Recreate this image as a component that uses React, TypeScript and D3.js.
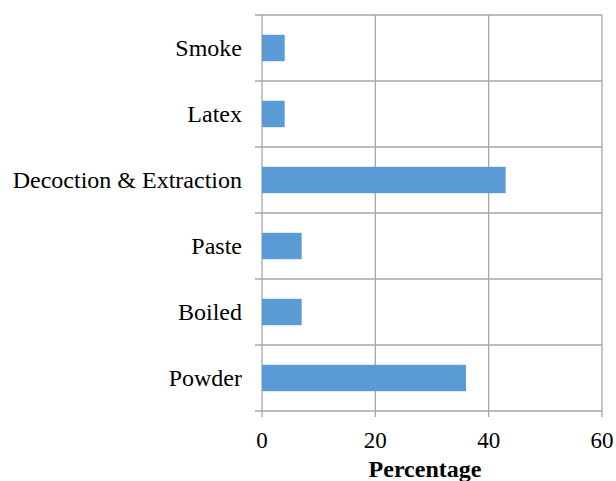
import React, { useEffect, useRef } from 'react';
import * as d3 from 'd3';

const categories = ['Smoke', 'Latex', 'Decoction & Extraction', 'Paste', 'Boiled', 'Powder'];
const percentages = [4, 4, 43, 7, 7, 36];
const xTicks = [0, 20, 40, 60];
const xTitle = 'Percentage';

const W = 616;
const H = 481;

export default function App() {
    const svgRef = useRef<SVGSVGElement>(null);

    useEffect(() => {
        if (!svgRef.current) return;
        const svg = d3.select(svgRef.current);
        svg.selectAll('*').remove();

        const margin = { top: 15, right: 14, bottom: 70, left: 262 };
        const innerW = W - margin.left - margin.right;
        const innerH = H - margin.top - margin.bottom;
        const font = '"Liberation Serif", "Times New Roman", serif';
        const grid = '#a6a6a6';

        const x = d3.scaleLinear().domain([0, 60]).range([0, innerW]);
        const y = d3.scaleBand<string>().domain(categories).range([0, innerH]).paddingInner(0.6).paddingOuter(0.3);
        const bands = d3.scaleBand<string>().domain(categories).range([0, innerH]);

        const g = svg.append('g').attr('transform', `translate(${margin.left},${margin.top})`);

        // vertical gridlines + ticks below
        g.selectAll('.vgrid')
            .data(xTicks)
            .enter()
            .append('line')
            .attr('x1', d => x(d))
            .attr('x2', d => x(d))
            .attr('y1', 0)
            .attr('y2', innerH + 6)
            .attr('stroke', grid)
            .attr('stroke-width', 1.3);

        // horizontal category boundaries, ticks out to the left
        const bounds = categories.map(c => bands(c) as number).concat([innerH]);
        g.selectAll('.hgrid')
            .data(bounds)
            .enter()
            .append('line')
            .attr('x1', -7)
            .attr('x2', innerW)
            .attr('y1', d => d)
            .attr('y2', d => d)
            .attr('stroke', grid)
            .attr('stroke-width', 1.3);

        g.selectAll('.bar')
            .data(categories)
            .enter()
            .append('rect')
            .attr('x', x(0))
            .attr('y', d => y(d) as number)
            .attr('width', (d, i) => x(percentages[i]) - x(0))
            .attr('height', y.bandwidth())
            .attr('fill', '#5b9bd5');

        g.selectAll('.cat')
            .data(categories)
            .enter()
            .append('text')
            .attr('x', -20)
            .attr('y', d => (bands(d) as number) + bands.bandwidth() / 2)
            .attr('dy', '0.35em')
            .attr('text-anchor', 'end')
            .attr('font-family', font)
            .attr('font-size', 24)
            .attr('fill', '#000')
            .text(d => d);

        g.selectAll('.xt')
            .data(xTicks)
            .enter()
            .append('text')
            .attr('x', d => x(d))
            .attr('y', innerH + 37)
            .attr('text-anchor', 'middle')
            .attr('font-family', font)
            .attr('font-size', 23)
            .attr('fill', '#000')
            .text(d => String(d));

        g.append('text')
            .attr('x', x(30) - 7)
            .attr('y', innerH + 66)
            .attr('text-anchor', 'middle')
            .attr('font-family', font)
            .attr('font-size', 24)
            .attr('font-weight', 'bold')
            .attr('fill', '#000')
            .text(xTitle);
    }, []);

    return (
        <svg
            ref={svgRef}
            width={W}
            height={H}
            style={{ position: 'absolute', left: 0, top: 0, background: '#fff' }}
        />
    );
}
